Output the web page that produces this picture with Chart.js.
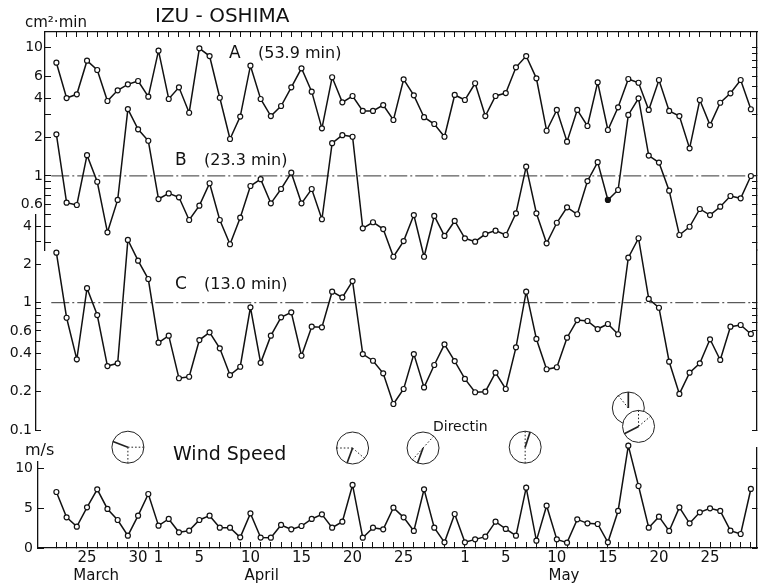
<!DOCTYPE html>
<html>
<head>
<meta charset="utf-8">
<script src="https://cdn.jsdelivr.net/npm/chart.js@4/dist/chart.umd.min.js"></script>
<style>
  html, body { margin: 0; padding: 0; background: #fff; }
  canvas { display: block; }
</style>
</head>
<body>
<canvas id="chart" width="762" height="588"></canvas>
<script>
// Day numbering: 1-31 = March, 32-61 = April (day - 31), 62-92 = May (day - 61)
const days = [
  22, 23, 24, 25, 26, 27, 28, 29, 30, 31,
  32, 33, 34, 35, 36, 37, 38, 39, 40, 41,
  42, 43, 44, 45, 46, 47, 48, 49, 50, 51,
  52, 53, 54, 55, 56, 57, 58, 59, 60, 61,
  62, 63, 64, 65, 66, 67, 68, 69, 70, 71,
  72, 73, 74, 75, 76, 77, 78, 79, 80, 81,
  82, 83, 84, 85, 86, 87, 88, 89, 90
];

// Exposure A, B, C (cm²·min) and daily wind speed (m/s)
const seriesA = [
  7.64, 4.05, 4.33, 7.92, 6.70, 3.84, 4.65, 5.18, 5.50, 4.15,
  9.48, 3.98, 4.91, 3.11, 9.89, 8.61, 4.07, 1.94, 2.90, 7.24,
  3.98, 2.93, 3.51, 4.91, 6.91, 4.54, 2.35, 5.88, 3.75, 4.20,
  3.21, 3.21, 3.57, 2.73, 5.67, 4.25, 2.87, 2.54, 2.02, 4.28,
  3.91, 5.28, 2.93, 4.20, 4.43, 7.03, 8.61, 5.77, 2.25, 3.27,
  1.85, 3.27, 2.45, 5.37, 2.28, 3.43, 5.70, 5.33, 3.27, 5.60,
  3.21, 2.93, 1.64, 3.91, 2.49, 3.72, 4.41, 5.60, 3.31
];
const seriesB = [
  2.11, 0.618, 0.593, 1.45, 0.90, 0.363, 0.649, 3.32, 2.31, 1.88,
  0.66, 0.73, 0.681, 0.453, 0.586, 0.876, 0.453, 0.293, 0.472, 0.834,
  0.943, 0.611, 0.79, 1.06, 0.611, 0.79, 0.459, 1.80, 2.08, 2.02,
  0.39, 0.435, 0.385, 0.234, 0.31, 0.495, 0.234, 0.487, 0.34, 0.445,
  0.326, 0.307, 0.352, 0.374, 0.346, 0.511, 1.18, 0.511, 0.298, 0.431,
  0.569, 0.502, 0.912, 1.28, 0.649, 0.776, 2.99, 4.03, 1.44, 1.27,
  0.767, 0.346, 0.401, 0.552, 0.495, 0.575, 0.697, 0.669, 0.998
];
const seriesC = [
  2.47, 0.762, 0.359, 1.30, 0.80, 0.318, 0.334, 3.11, 2.14, 1.535,
  0.485, 0.551, 0.255, 0.262, 0.509, 0.585, 0.438, 0.270, 0.314, 0.92,
  0.337, 0.551, 0.768, 0.841, 0.383, 0.648, 0.641, 1.22, 1.10, 1.48,
  0.395, 0.35, 0.279, 0.16, 0.21, 0.395, 0.216, 0.324, 0.471, 0.348,
  0.252, 0.198, 0.20, 0.282, 0.21, 0.446, 1.22, 0.519, 0.30, 0.311,
  0.531, 0.731, 0.718, 0.621, 0.68, 0.565, 2.26, 3.21, 1.07, 0.913,
  0.344, 0.192, 0.282, 0.334, 0.516, 0.355, 0.648, 0.668, 0.568
];
const windSpeed = [
  7.0, 3.83, 2.67, 5.08, 7.33, 4.88, 3.5, 1.54, 4.04, 6.75,
  2.79, 3.63, 1.96, 2.17, 3.5, 4.04, 2.54, 2.54, 1.33, 4.33,
  1.3, 1.29, 2.88, 2.33, 2.75, 3.63, 4.21, 2.54, 3.29, 7.88,
  1.29, 2.54, 2.33, 5.04, 3.83, 2.13, 7.33, 2.54, 0.71, 4.25,
  0.71, 1.08, 1.42, 3.29, 2.38, 1.54, 7.54, 0.92, 5.29, 1.08,
  0.67, 3.58, 3.08, 3.0, 0.71, 4.63, 12.79, 7.75, 2.54, 3.92,
  2.13, 5.08, 3.08, 4.46, 4.96, 4.63, 2.17, 1.75, 7.38
];
// B value on this day is plotted as a solid dot
const bSolidDay = 76;
const referenceLevel = 1;

// Axis ticks and their printed labels
const xTickLabels = {
  25: '25', 30: '30', 32: '1', 36: '5', 41: '10', 46: '15', 51: '20',
  56: '25', 62: '1', 66: '5', 71: '10', 76: '15', 81: '20', 86: '25'
};
const months = [
  { text: 'March', day: 25.9 },
  { text: 'April', day: 42.1 },
  { text: 'May', day: 71.7 }
];
const abTicks = [10, 6, 4, 3, 2, 1, 0.9, 0.8, 0.7, 0.6, 0.5, 0.4, 0.3];
const abLabels = { 10: '10', 6: '6', 4: '4', 2: '2', 1: '1', 0.6: '0.6' };
const cTicks = [4, 3, 2, 1, 0.9, 0.8, 0.7, 0.6, 0.5, 0.4, 0.3, 0.2, 0.1];
const cLabels = { 4: '4', 2: '2', 1: '1', 0.6: '0.6', 0.4: '0.4', 0.2: '0.2', 0.1: '0.1' };
const windTicks = [0, 5, 10];
const abRightTicks = [10, 9, 8, 7, 6, 5, 4, 3, 2, 1, 0.9, 0.8, 0.7, 0.6, 0.5, 0.4, 0.3];
const cRightTicks = [2, 1, 0.9, 0.8, 0.7, 0.6, 0.5, 0.4, 0.3, 0.2, 0.1];

// Wind direction dials: day, height on the wind axis, solid bearing, dotted bearings (deg from north)
const dialDays = [29, 51, 57.9, 67.9, 78, 79];
const dialLevels = [12.6, 12.5, 12.5, 12.6, 17.5, 15.2];
const dialSolid = [291, 200, 200, 18, 0, 243];
const dialDotted = [[90, 180], [270, 131], [42, 222], [0, 180], [321], [0, 50]];

// ---------------------------------------------------------------------------
const INK = '#111';
Chart.defaults.font.family = '"DejaVu Sans", sans-serif';
Chart.defaults.color = INK;

const points = (vals) => days.map((d, i) => ({ x: d, y: vals[i] }));

const seriesStyle = {
  borderColor: INK, borderWidth: 1.5, tension: 0, fill: false, clip: false,
  pointRadius: 2.5, pointBorderWidth: 1.2, pointBorderColor: INK,
  pointBackgroundColor: '#fff', pointHoverRadius: 2.5
};
const refStyle = {
  borderColor: '#333', borderWidth: 1, borderDash: [18, 3, 2, 3],
  pointRadius: 0, fill: false, clip: false
};

// Panel frames on the page: each axis gets its own box
const frames = {
  plot: { left: 38, top: 32, right: 757, bottom: 548 },
  x:    { left: 38, right: 757, top: 548, bottom: 588 },
  xTop: { left: 45, right: 757, top: 0, bottom: 32 },
  yAB:  { left: 0, right: 45, top: 32, bottom: 250 },
  yC:   { left: 0, right: 36, top: 215, bottom: 430 },
  yW:   { left: 0, right: 38, top: 462, bottom: 548 },
  yABr: { left: 757, right: 762, top: 32, bottom: 250 },
  yCr:  { left: 757, right: 762, top: 250, bottom: 430 },
  yWr:  { left: 757, right: 762, top: 448, bottom: 548 }
};

const panelLayout = {
  id: 'panelLayout',
  afterLayout(chart) {
    const p = frames.plot;
    chart.chartArea = { left: p.left, top: p.top, right: p.right, bottom: p.bottom,
                        width: p.right - p.left, height: p.bottom - p.top };
    for (const id of Object.keys(frames)) {
      if (id === 'plot') continue;
      const s = chart.scales[id];
      const b = frames[id];
      s.left = b.left; s.right = b.right; s.top = b.top; s.bottom = b.bottom;
      s.width = b.right - b.left; s.height = b.bottom - b.top;
      s.configure();
    }
  }
};

function text(ctx, str, x, y, size, align) {
  ctx.font = size + 'px "DejaVu Sans", sans-serif';
  ctx.textAlign = align || 'left';
  ctx.textBaseline = 'middle';
  ctx.fillText(str, x, y);
}

function ray(ctx, cx, cy, r, deg) {
  const a = deg * Math.PI / 180;
  ctx.beginPath();
  ctx.moveTo(cx, cy);
  ctx.lineTo(cx + Math.sin(a) * r, cy - Math.cos(a) * r);
  ctx.stroke();
}

const annotations = {
  id: 'annotations',
  afterDatasetsDraw(chart) {
    const ctx = chart.ctx;
    const xs = chart.scales.x, yw = chart.scales.yW;
    const R = 16;
    ctx.save();
    dialDays.forEach((d, i) => {
      const cx = xs.getPixelForValue(d);
      const cy = yw.getPixelForValue(dialLevels[i]);
      ctx.beginPath();
      ctx.arc(cx, cy, R, 0, Math.PI * 2);
      ctx.fillStyle = '#fff';
      ctx.fill();
      ctx.lineWidth = 1;
      ctx.strokeStyle = '#222';
      ctx.stroke();
      ctx.setLineDash([1.6, 2]);
      ctx.lineWidth = 1;
      dialDotted[i].forEach((deg) => ray(ctx, cx, cy, R, deg));
      ctx.setLineDash([]);
      ctx.lineWidth = 1.7;
      ray(ctx, cx, cy, R, dialSolid[i]);
    });
    ctx.restore();
  },
  afterDraw(chart) {
    const ctx = chart.ctx;
    const xs = chart.scales.x;
    ctx.save();
    ctx.fillStyle = INK;
    text(ctx, 'IZU - OSHIMA', 155, 17, 20);
    text(ctx, 'cm²·min', 25, 23, 15);
    text(ctx, 'A', 229, 54, 17);
    text(ctx, '(53.9 min)', 258, 54, 16);
    text(ctx, 'B', 175, 161, 17);
    text(ctx, '(23.3 min)', 204, 161, 16);
    text(ctx, 'C', 175, 285, 17);
    text(ctx, '(13.0 min)', 204, 285, 16);
    text(ctx, 'Wind Speed', 173, 455, 19);
    text(ctx, 'Directin', 433, 427, 14);
    text(ctx, 'm/s', 25, 451, 16);
    months.forEach((m) => text(ctx, m.text, xs.getPixelForValue(m.day), 576, 15, 'center'));
    ctx.restore();
  }
};

const tickSet = (list) => (scale) => { scale.ticks = list.map((v) => ({ value: v })); };
const dayTicks = (scale) => { scale.ticks = days.map((d) => ({ value: d })); };

const gridInward = (len) => ({
  drawOnChartArea: false, drawTicks: true, tickLength: -len, color: INK, lineWidth: 1
});
const borderLine = { display: true, color: INK, width: 1.3 };

new Chart(document.getElementById('chart'), {
  type: 'line',
  data: {
    datasets: [
      Object.assign({ label: 'A', data: points(seriesA), yAxisID: 'yAB', xAxisID: 'x' }, seriesStyle),
      Object.assign({ label: 'B', data: points(seriesB), yAxisID: 'yAB', xAxisID: 'x' }, seriesStyle,
        { pointBackgroundColor: days.map((d) => d === bSolidDay ? INK : '#fff') }),
      Object.assign({ label: 'C', data: points(seriesC), yAxisID: 'yC', xAxisID: 'x' }, seriesStyle),
      Object.assign({ label: 'Wind Speed', data: points(windSpeed), yAxisID: 'yW', xAxisID: 'x' }, seriesStyle),
      Object.assign({ label: 'B level 1', yAxisID: 'yAB', xAxisID: 'x',
        data: [{ x: 21.5, y: referenceLevel }, { x: 90.5, y: referenceLevel }] }, refStyle),
      Object.assign({ label: 'C level 1', yAxisID: 'yC', xAxisID: 'x',
        data: [{ x: 21.5, y: referenceLevel }, { x: 90.5, y: referenceLevel }] }, refStyle)
    ]
  },
  options: {
    responsive: false,
    animation: false,
    events: [],
    layout: { padding: 0 },
    plugins: { legend: { display: false }, tooltip: { enabled: false }, title: { display: false } },
    scales: {
      x: {
        type: 'linear', axis: 'x', position: 'bottom', min: 20.2, max: 90.6,
        afterBuildTicks: dayTicks,
        grid: gridInward(6), border: borderLine,
        ticks: {
          autoSkip: false, maxRotation: 0, minRotation: 0, padding: 7,
          font: { size: 15 }, color: INK,
          callback: (v) => xTickLabels[v] || ''
        }
      },
      xTop: {
        type: 'linear', axis: 'x', position: 'top', min: 20.885, max: 90.6,
        afterBuildTicks: dayTicks,
        grid: gridInward(5), border: borderLine,
        ticks: { display: false, autoSkip: false }
      },
      yAB: {
        type: 'logarithmic', axis: 'y', position: 'left', min: 0.2642, max: 13.26,
        afterBuildTicks: tickSet(abTicks),
        grid: gridInward(6), border: borderLine,
        ticks: { autoSkip: false, padding: 8, font: { size: 14 }, color: INK,
                 callback: (v) => abLabels[v] || '' }
      },
      yC: {
        type: 'logarithmic', axis: 'y', position: 'left', min: 0.1, max: 4.886,
        afterBuildTicks: tickSet(cTicks),
        grid: gridInward(5), border: borderLine,
        ticks: { autoSkip: false, padding: 9, font: { size: 14 }, color: INK,
                 callback: (v) => cLabels[v] || '' }
      },
      yW: {
        type: 'linear', axis: 'y', position: 'left', min: 0, max: 10.75,
        afterBuildTicks: tickSet(windTicks),
        grid: gridInward(6), border: borderLine,
        ticks: { autoSkip: false, padding: 11, font: { size: 14 }, color: INK,
                 callback: (v) => String(v) }
      },
      yABr: {
        type: 'logarithmic', axis: 'y', position: 'right', min: 0.2642, max: 13.26,
        afterBuildTicks: tickSet(abRightTicks),
        grid: gridInward(5), border: borderLine,
        ticks: { display: false, autoSkip: false }
      },
      yCr: {
        type: 'logarithmic', axis: 'y', position: 'right', min: 0.1, max: 2.594,
        afterBuildTicks: tickSet(cRightTicks),
        grid: gridInward(5), border: borderLine,
        ticks: { display: false, autoSkip: false }
      },
      yWr: {
        type: 'linear', axis: 'y', position: 'right', min: 0, max: 12.5,
        afterBuildTicks: tickSet(windTicks),
        grid: gridInward(5), border: borderLine,
        ticks: { display: false, autoSkip: false }
      }
    }
  },
  plugins: [panelLayout, annotations]
});
</script>
</body>
</html>
